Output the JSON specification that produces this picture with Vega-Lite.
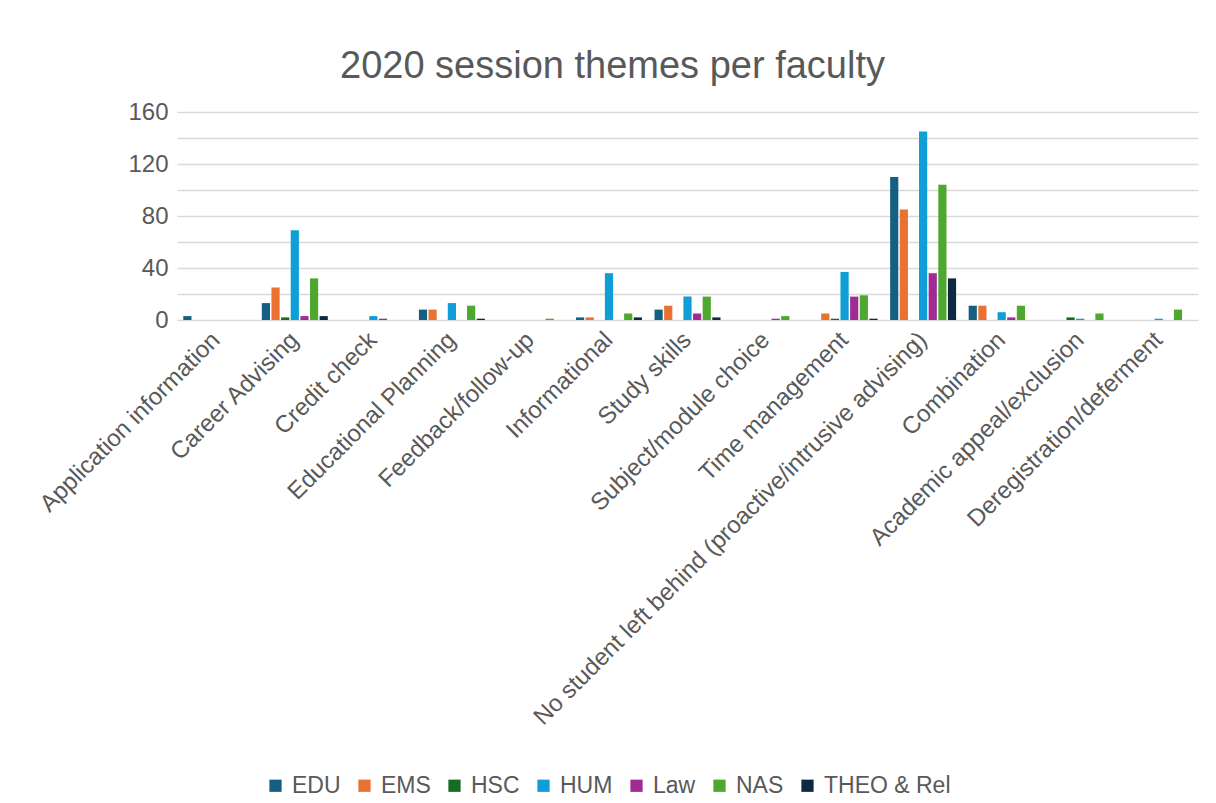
{
  "$schema": "https://vega.github.io/schema/vega-lite/v6.json",
  "autosize": {"type": "none"},
  "padding": {"left": 177, "top": 112, "right": 18, "bottom": 483},
  "width": 1021,
  "height": 208,
  "background": "white",
  "title": {
    "text": "2020 session themes per faculty",
    "font": "Liberation Sans",
    "fontSize": 38,
    "fontWeight": "normal",
    "color": "#595959",
    "anchor": "middle",
    "dx": -75,
    "dy": 48,
    "offset": 24,
    "baseline": "bottom"
  },
  "data": {
    "values": [
      {"theme": "Application information", "faculty": "EDU", "count": 3},
      {"theme": "Career Advising", "faculty": "EDU", "count": 13},
      {"theme": "Career Advising", "faculty": "EMS", "count": 25},
      {"theme": "Career Advising", "faculty": "HSC", "count": 2},
      {"theme": "Career Advising", "faculty": "HUM", "count": 69},
      {"theme": "Career Advising", "faculty": "Law", "count": 3},
      {"theme": "Career Advising", "faculty": "NAS", "count": 32},
      {"theme": "Career Advising", "faculty": "THEO & Rel", "count": 3},
      {"theme": "Credit check", "faculty": "HUM", "count": 3},
      {"theme": "Credit check", "faculty": "Law", "count": 1},
      {"theme": "Educational Planning", "faculty": "EDU", "count": 8},
      {"theme": "Educational Planning", "faculty": "EMS", "count": 8},
      {"theme": "Educational Planning", "faculty": "HUM", "count": 13},
      {"theme": "Educational Planning", "faculty": "NAS", "count": 11},
      {"theme": "Educational Planning", "faculty": "THEO & Rel", "count": 1},
      {"theme": "Feedback/follow-up", "faculty": "NAS", "count": 1},
      {"theme": "Informational", "faculty": "EDU", "count": 2},
      {"theme": "Informational", "faculty": "EMS", "count": 2},
      {"theme": "Informational", "faculty": "HUM", "count": 36},
      {"theme": "Informational", "faculty": "NAS", "count": 5},
      {"theme": "Informational", "faculty": "THEO & Rel", "count": 2},
      {"theme": "Study skills", "faculty": "EDU", "count": 8},
      {"theme": "Study skills", "faculty": "EMS", "count": 11},
      {"theme": "Study skills", "faculty": "HUM", "count": 18},
      {"theme": "Study skills", "faculty": "Law", "count": 5},
      {"theme": "Study skills", "faculty": "NAS", "count": 18},
      {"theme": "Study skills", "faculty": "THEO & Rel", "count": 2},
      {"theme": "Subject/module choice", "faculty": "Law", "count": 1},
      {"theme": "Subject/module choice", "faculty": "NAS", "count": 3},
      {"theme": "Time management", "faculty": "EMS", "count": 5},
      {"theme": "Time management", "faculty": "HSC", "count": 1},
      {"theme": "Time management", "faculty": "HUM", "count": 37},
      {"theme": "Time management", "faculty": "Law", "count": 18},
      {"theme": "Time management", "faculty": "NAS", "count": 19},
      {"theme": "Time management", "faculty": "THEO & Rel", "count": 1},
      {"theme": "No student left behind (proactive/intrusive advising)", "faculty": "EDU", "count": 110},
      {"theme": "No student left behind (proactive/intrusive advising)", "faculty": "EMS", "count": 85},
      {"theme": "No student left behind (proactive/intrusive advising)", "faculty": "HUM", "count": 145},
      {"theme": "No student left behind (proactive/intrusive advising)", "faculty": "Law", "count": 36},
      {"theme": "No student left behind (proactive/intrusive advising)", "faculty": "NAS", "count": 104},
      {"theme": "No student left behind (proactive/intrusive advising)", "faculty": "THEO & Rel", "count": 32},
      {"theme": "Combination", "faculty": "EDU", "count": 11},
      {"theme": "Combination", "faculty": "EMS", "count": 11},
      {"theme": "Combination", "faculty": "HUM", "count": 6},
      {"theme": "Combination", "faculty": "Law", "count": 2},
      {"theme": "Combination", "faculty": "NAS", "count": 11},
      {"theme": "Academic appeal/exclusion", "faculty": "HSC", "count": 2},
      {"theme": "Academic appeal/exclusion", "faculty": "HUM", "count": 1},
      {"theme": "Academic appeal/exclusion", "faculty": "NAS", "count": 5},
      {"theme": "Deregistration/deferment", "faculty": "HUM", "count": 1},
      {"theme": "Deregistration/deferment", "faculty": "NAS", "count": 8}
    ]
  },
  "mark": {"type": "bar"},
  "encoding": {
    "x": {
      "field": "theme",
      "type": "nominal",
      "sort": ["Application information", "Career Advising", "Credit check", "Educational Planning", "Feedback/follow-up", "Informational", "Study skills", "Subject/module choice", "Time management", "No student left behind (proactive/intrusive advising)", "Combination", "Academic appeal/exclusion", "Deregistration/deferment"],
      "scale": {"paddingInner": 0.16, "paddingOuter": 0.08},
      "axis": {
        "title": null,
        "domain": false,
        "ticks": false,
        "labelAngle": -45,
        "labelAlign": "right",
        "labelBaseline": "middle",
        "labelPadding": 16,
        "labelFont": "Liberation Sans",
        "labelFontSize": 24,
        "labelColor": "#595959",
        "labelLimit": 800
      }
    },
    "xOffset": {
      "field": "faculty",
      "type": "nominal",
      "sort": ["EDU", "EMS", "HSC", "HUM", "Law", "NAS", "THEO & Rel"],
      "scale": {"paddingInner": 0.15}
    },
    "y": {
      "field": "count",
      "type": "quantitative",
      "scale": {"domain": [0, 160]},
      "axis": {
        "title": null,
        "domain": false,
        "ticks": false,
        "values": [0, 20, 40, 60, 80, 100, 120, 140, 160],
        "labelExpr": "datum.value % 40 == 0 ? datum.label : ''",
        "labelPadding": 9,
        "labelFont": "Liberation Sans",
        "labelFontSize": 24,
        "labelColor": "#595959",
        "grid": true,
        "gridColor": "#d9d9d9",
        "gridWidth": 1.5
      }
    },
    "color": {
      "field": "faculty",
      "type": "nominal",
      "sort": ["EDU", "EMS", "HSC", "HUM", "Law", "NAS", "THEO & Rel"],
      "scale": {
        "domain": ["EDU", "EMS", "HSC", "HUM", "Law", "NAS", "THEO & Rel"],
        "range": ["#156082", "#E97132", "#196B24", "#0F9ED5", "#A02B93", "#4EA72E", "#0E2841"]
      },
      "legend": {
        "title": null,
        "orient": "none",
        "direction": "horizontal",
        "legendX": 87,
        "legendY": 662,
        "symbolType": "square",
        "symbolSize": 150,
        "symbolStrokeWidth": 0,
        "labelFont": "Liberation Sans",
        "labelFontSize": 23,
        "labelColor": "#595959",
        "labelOffset": 5,
        "columnPadding": 12
      }
    }
  },
  "config": {
    "view": {"stroke": null}
  }
}
